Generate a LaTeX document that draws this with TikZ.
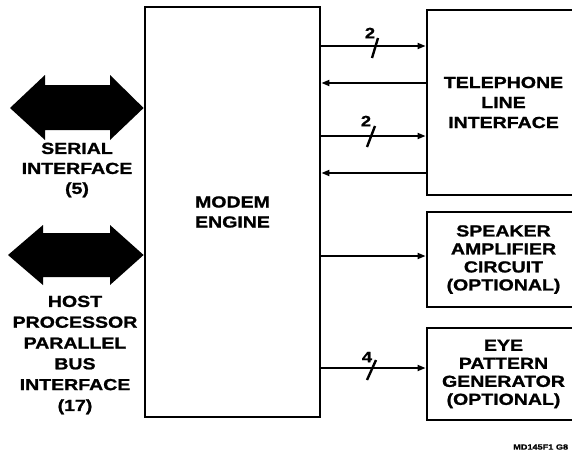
\documentclass[tikz,border=0pt]{standalone}
\usepackage{fontspec}
\newfontfamily\hv{Liberation Sans Bold}[FakeStretch=1.22,FakeBold=1.2]
\usetikzlibrary{arrows.meta}
\begin{document}
\begin{tikzpicture}[x=1pt,y=-1pt,
  box/.style={draw,line width=2.8pt,inner sep=0pt,font=\hv\fontsize{16}{20}\selectfont,align=center},
  lbl/.style={inner sep=0pt,align=center,font=\hv\fontsize{16}{20}\selectfont},
  sig/.style={line width=1.8pt},
  tip/.style={-{Triangle[length=8pt,width=6pt]}},
  slash/.style={line width=2.4pt},
  num/.style={inner sep=0pt,font=\hv\fontsize{15}{15}\selectfont},
  bigarrow/.style={fill=black}]
\useasboundingbox (0,0) rectangle (572,455);
\clip (0,0) rectangle (572,455);
% boxes
\node[box,minimum width=175pt,minimum height=410pt] (modem) at (232.5,212) {MODEM\\ENGINE};
\node[box,minimum width=153pt,minimum height=185pt] (tel) at (503.5,102.5) {TELEPHONE\\LINE\\INTERFACE};
\node[box,minimum width=153pt,minimum height=95pt,font=\hv\fontsize{16}{18}\selectfont] (spk) at (503.5,259.5) {SPEAKER\\AMPLIFIER\\CIRCUIT\\(OPTIONAL)};
\node[box,minimum width=153pt,minimum height=92pt,font=\hv\fontsize{16}{18}\selectfont] (eye) at (503.5,374) {EYE\\PATTERN\\GENERATOR\\(OPTIONAL)};
% y levels
\coordinate (y1) at (0,46);
\coordinate (y2) at (0,83);
\coordinate (y3) at (0,136);
\coordinate (y4) at (0,173);
\coordinate (y5) at (0,256);
\coordinate (y6) at (0,368);
% connectors
\draw[sig,tip] (modem.east |- y1) -- (tel.west |- y1);
\draw[sig,tip] (tel.west |- y2) -- (modem.east |- y2);
\draw[sig,tip] (modem.east |- y3) -- (tel.west |- y3);
\draw[sig,tip] (tel.west |- y4) -- (modem.east |- y4);
\draw[sig,tip] (modem.east |- y5) -- (spk.west |- y5);
\draw[sig,tip] (modem.east |- y6) -- (eye.west |- y6);
% bus width marks
\draw[slash] (372,58) -- (378,38);
\node[num] (n1) at (370,33) {2};
\draw[slash] (367,147) -- (375,126);
\node[num] (n2) at (366,121) {2};
\draw[slash] (367,380) -- (376,360);
\node[num] (n3) at (367,357) {4};
% big double arrows
\coordinate (sa) at (modem.west |- 0,108);
\fill[bigarrow] (10,108) -- (45,75) -- (45,85) -- (110,85) -- (110,75) -- (sa) -- (110,140) -- (110,130) -- (45,130) -- (45,140) -- cycle;
\coordinate (ha) at (modem.west |- 0,255);
\fill[bigarrow] (8,255) -- (43,225) -- (43,233) -- (110,233) -- (110,225) -- (ha) -- (110,285) -- (110,277) -- (43,277) -- (43,285) -- cycle;
% labels
\node[lbl] (serial) at (77,170) {SERIAL\\INTERFACE\\(5)};
\node[lbl,font=\hv\fontsize{16}{20.8}\selectfont] (host) at (75,355) {HOST\\PROCESSOR\\PARALLEL\\BUS\\INTERFACE\\(17)};
\node[inner sep=0pt,anchor=west,font=\hv\fontsize{7.5}{8}\selectfont] (code) at (513,447) {MD145F1 G8};
\end{tikzpicture}
\end{document}
